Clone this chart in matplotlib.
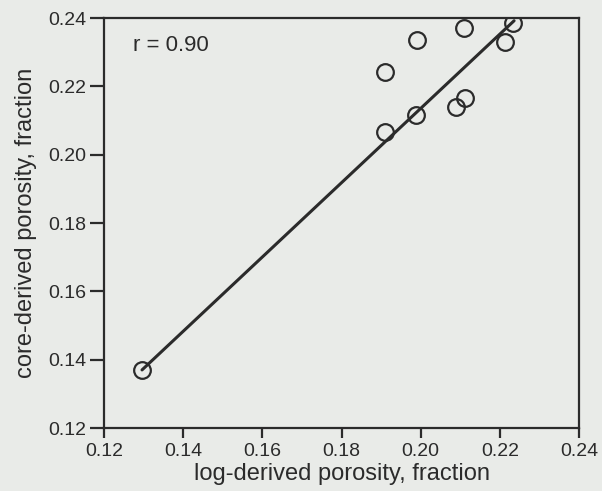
import matplotlib
matplotlib.use("Agg")
import matplotlib.pyplot as plt

log_por = [0.1296, 0.191, 0.199, 0.211, 0.2234, 0.2213, 0.191, 0.1987, 0.2089, 0.2112]
core_por = [0.137, 0.2242, 0.2337, 0.2370, 0.2384, 0.2331, 0.2067, 0.2116, 0.2140, 0.2165]
fit_x = [0.1296, 0.2236]
fit_y = [0.137, 0.2392]
ticks = [0.12, 0.14, 0.16, 0.18, 0.20, 0.22, 0.24]

plt.rcParams['font.family'] = ['Liberation Sans', 'DejaVu Sans']
ink = '#2b2b2b'
bg = '#e9ebe8'

fig = plt.figure(figsize=(6.02, 4.91), dpi=100, facecolor=bg)
ax = fig.add_axes([0.1728, 0.1283, 0.789, 0.835], facecolor=bg)

ax.plot(fit_x, fit_y, color=ink, lw=2.2, solid_capstyle='round', zorder=2)
ax.plot(log_por, core_por, 'o', ms=12, mfc='none', mec=ink, mew=1.6, zorder=3)

ax.set_xlim(0.12, 0.24)
ax.set_ylim(0.12, 0.24)
ax.set_xticks(ticks)
ax.set_yticks(ticks)
ax.set_xticklabels(['%.2f' % t for t in ticks])
ax.set_yticklabels(['%.2f' % t for t in ticks])
ax.tick_params(direction='out', width=1.6, color=ink, labelcolor=ink,
               labelsize=14, top=False, right=False)
ax.tick_params(axis='x', length=7, pad=4)
ax.tick_params(axis='y', length=10, pad=3)
for s in ax.spines.values():
    s.set_linewidth(1.6)
    s.set_color(ink)

ax.set_xlabel('log-derived porosity, fraction', fontsize=17, color=ink, labelpad=2)
ax.set_ylabel('core-derived porosity, fraction', fontsize=17, color=ink, labelpad=8)
ax.text(0.062, 0.932, 'r = 0.90', transform=ax.transAxes, fontsize=16, color=ink,
        va='center', ha='left')

fig.savefig('out.png', dpi=100, facecolor=bg)
